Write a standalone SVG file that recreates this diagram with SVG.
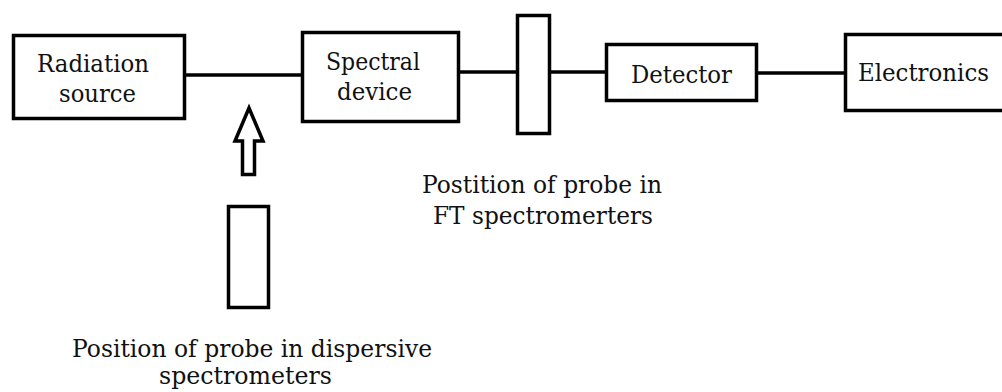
<svg xmlns="http://www.w3.org/2000/svg" width="1002" height="392" viewBox="0 0 1002 392">
<style>
.box{fill:#fff;stroke:#000;stroke-width:3.5}
.ln{stroke:#000;stroke-width:3.5;fill:none}
.t{font-family:'DejaVu Serif','Liberation Serif',serif;font-size:24px;fill:#111}
</style>
<rect width="1002" height="392" fill="#fff"/>
<g id="connectors">
<line class="ln" x1="186" y1="75" x2="301" y2="75"/>
<line class="ln" x1="460" y1="72" x2="516" y2="72"/>
<line class="ln" x1="551" y1="72" x2="605" y2="72"/>
<line class="ln" x1="758" y1="73" x2="844" y2="73"/>
</g>
<g id="radiation-source">
<rect class="box" x="13.5" y="35.5" width="171" height="83"/>
<text class="t" x="37" y="72" textLength="112" lengthAdjust="spacingAndGlyphs">Radiation</text>
<text class="t" x="59" y="102" textLength="77" lengthAdjust="spacingAndGlyphs">source</text>
</g>
<g id="spectral-device">
<rect class="box" x="302.5" y="32.5" width="156" height="89"/>
<text class="t" x="326" y="70" textLength="94" lengthAdjust="spacingAndGlyphs">Spectral</text>
<text class="t" x="337" y="100" textLength="75" lengthAdjust="spacingAndGlyphs">device</text>
</g>
<g id="ft-probe">
<rect class="box" x="517.5" y="15.5" width="32" height="118"/>
</g>
<g id="detector">
<rect class="box" x="606.5" y="44.5" width="150" height="56"/>
<text class="t" x="631" y="83" textLength="101" lengthAdjust="spacingAndGlyphs">Detector</text>
</g>
<g id="electronics">
<rect class="box" x="845.5" y="34.5" width="170" height="76"/>
<text class="t" x="858" y="81" textLength="131" lengthAdjust="spacingAndGlyphs">Electronics</text>
</g>
<g id="arrow">
<path class="box" d="M249,108 L263,141 L254.5,141 L254.5,174.5 L242.5,174.5 L242.5,141 L235,141 Z"/>
</g>
<g id="dispersive-probe">
<rect class="box" x="228.5" y="206.5" width="40" height="101"/>
</g>
<g id="ft-label">
<text class="t" x="422" y="193" textLength="240" lengthAdjust="spacingAndGlyphs">Postition of probe in</text>
<text class="t" x="433" y="224" textLength="220" lengthAdjust="spacingAndGlyphs">FT spectromerters</text>
</g>
<g id="dispersive-label">
<text class="t" x="72" y="357" textLength="360" lengthAdjust="spacingAndGlyphs">Position of probe in dispersive</text>
<text class="t" x="159" y="384" textLength="173" lengthAdjust="spacingAndGlyphs">spectrometers</text>
</g>
</svg>
